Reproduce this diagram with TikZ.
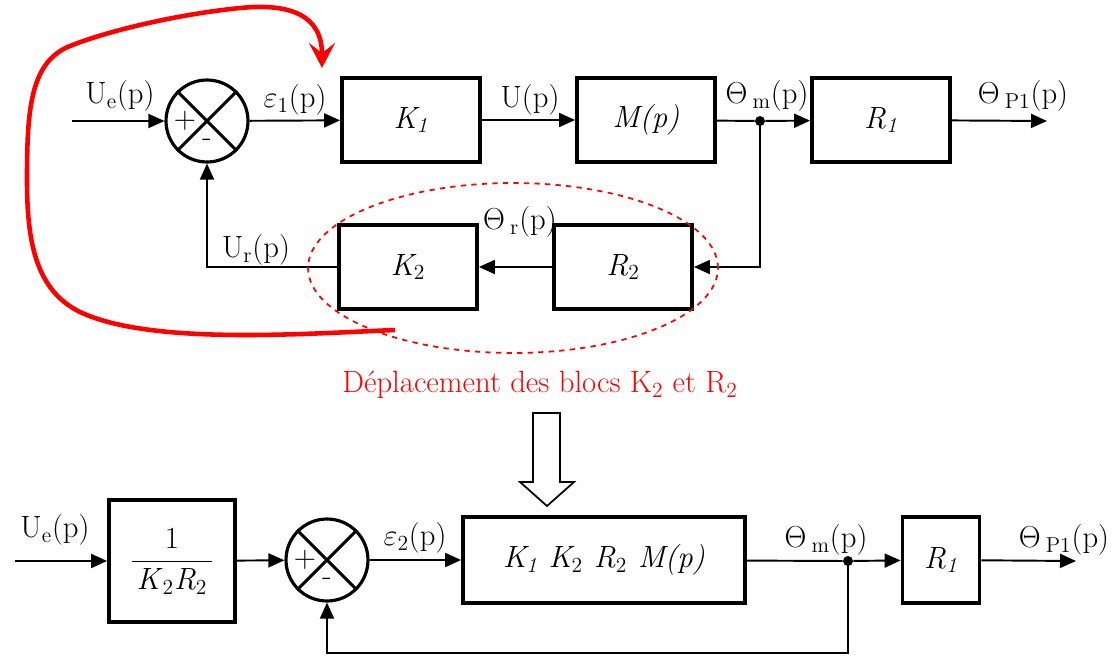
\documentclass[tikz,border=0pt]{standalone}
\usetikzlibrary{arrows.meta,positioning,calc}
\definecolor{MarkRed}{RGB}{255,0,0}
\newcommand{\lowsub}[1]{\textsubscript{#1}}
\newcommand{\Th}{\ensuremath{\Theta}}
\newcommand{\eps}{\ensuremath{\varepsilon}}

\tikzset{
  blk/.style={draw, line width=2.2pt, minimum width=2.76cm, minimum height=1.68cm, inner sep=0pt},
  sumpt/.style={draw, circle, line width=1.8pt, minimum size=1.64cm, inner sep=0pt},
  sig/.style={-{Triangle[length=3.2mm,width=2.8mm]}, line width=1.1pt},
  wire/.style={line width=1.1pt},
  lbl/.style={inner sep=0pt},
  junc/.style={fill, circle, inner sep=0pt, minimum size=0.2cm},
}

\begin{document}
\begin{tikzpicture}[x=0.02cm, y=-0.02cm, font=\fontsize{17.5}{20}\selectfont]
  \useasboundingbox (0,0) rectangle (1113,656);

  % upper diagram
  \node[sumpt] (s1) at (207,121) {};
  \draw[line width=1.8pt] (s1.north west) -- (s1.south east);
  \draw[line width=1.8pt] (s1.north east) -- (s1.south west);
  \node[lbl] (s1p) at (185,121) {+};
  \node[lbl] (s1m) at (207,143) {-};
  \node[blk] (k1) at (411,120) {\textit{K\lowsub{1}}};
  \node[blk] (mp) at (646,120) {\textit{M(p)}};
  \node[blk] (r1) at (881,120) {\textit{R\lowsub{1}}};
  \node[blk] (r2) at (623,267) {\textit{R\lowsub{\textup{2}}}};
  \node[blk] (k2) at (408,267) {\textit{K\lowsub{\textup{2}}}};
  \node[junc] (d1) at (760,121) {};
  \coordinate (in1) at (72,121);
  \coordinate (out1) at (1047,121);

  \draw[sig] (in1) -- (s1);
  \draw[sig] (s1) -- (k1);
  \draw[sig] (k1) -- (mp);
  \draw[wire] (mp) -- (d1);
  \draw[sig] (d1) -- (r1);
  \draw[sig] (r1) -- (out1);
  \draw[sig] (d1.center) |- (r2.east);
  \draw[sig] (r2) -- (k2);
  \draw[sig] (k2.west) -| (s1.south);

  \node[lbl] (lue1) at (120,96) {U\lowsub{e}(p)};
  \node[lbl] (leps1) at (295,100) {\eps\lowsub{1}(p)};
  \node[lbl] (lu) at (530,100) {U(p)};
  \node[lbl] (lthm1) at (767,96) {\Th\,\lowsub{m}(p)};
  \node[lbl] (lthp1) at (1023,96) {\Th\,\lowsub{P1}(p)};
  \node[lbl] (lthr) at (520,222) {\Th\,\lowsub{r}(p)};
  \node[lbl] (lur) at (256,250) {U\lowsub{r}(p)};

  % moved blocks
  \draw[MarkRed, dashed, line width=1pt] (513,268) ellipse [x radius=4.1cm, y radius=1.7cm];
  \coordinate (mvfrom) at (395,330);
  \coordinate (mvto) at (322,68);
  \draw[MarkRed, line width=2.6pt, -{Stealth[length=5mm,width=5.2mm,inset=2mm]}]
    (mvfrom) .. controls (300,334) and (150,345) .. (80,312)
    .. controls (35,290) and (27,240) .. (27,180)
    .. controls (27,110) and (30,62) .. (70,46)
    .. controls (110,30) and (180,14) .. (240,8)
    .. controls (290,3) and (322,15) .. (mvto);
  \node[MarkRed] (cap) at (540,385) {Déplacement des blocs K\lowsub{2} et R\lowsub{2}};
  \draw[line width=1pt] (533,413) -- (560,413) -- (560,482) -- (574,482) -- (547,506)
    -- (520,482) -- (533,482) -- cycle;

  % lower diagram
  \node[blk, minimum width=2.52cm, minimum height=2.44cm] (g) at (172,561)
    {\(\displaystyle\frac{\mbox{1}}{\mbox{\,\textit{K}\lowsub{\textup{2}}\textit{R}\lowsub{\textup{2}}\,}}\)};
  \node[sumpt] (s2) at (327,560) {};
  \draw[line width=1.8pt] (s2.north west) -- (s2.south east);
  \draw[line width=1.8pt] (s2.north east) -- (s2.south west);
  \node[lbl] (s2p) at (305,560) {+};
  \node[lbl] (s2m) at (327,582) {-};
  \node[blk, minimum width=5.64cm, minimum height=1.72cm] (kk) at (604,560)
    {\textit{K\lowsub{1} K\lowsub{\textup{2}} R\lowsub{\textup{2}} M(p)}};
  \node[junc] (d2) at (848,561) {};
  \node[blk, minimum width=1.54cm, minimum height=1.72cm] (r1b) at (941,560) {\textit{R\lowsub{1}}};
  \coordinate (in2) at (15,561);
  \coordinate (out2) at (1076,561);
  \coordinate (fb2) at (848,653);

  \draw[sig] (in2) -- (g);
  \draw[sig] (g) -- (s2);
  \draw[sig] (s2) -- (kk);
  \draw[wire] (kk) -- (d2);
  \draw[sig] (d2) -- (r1b);
  \draw[sig] (r1b) -- (out2);
  \draw[sig] (d2.center) -- (fb2) -| (s2.south);

  \node[lbl] (lue2) at (55,530) {U\lowsub{e}(p)};
  \node[lbl] (leps2) at (415,538) {\eps\lowsub{2}(p)};
  \node[lbl] (lthm2) at (826,540) {\Th\,\lowsub{m}(p)};
  \node[lbl] (lthp2) at (1064,540) {\Th\,\lowsub{P1}(p)};
\end{tikzpicture}
\end{document}
